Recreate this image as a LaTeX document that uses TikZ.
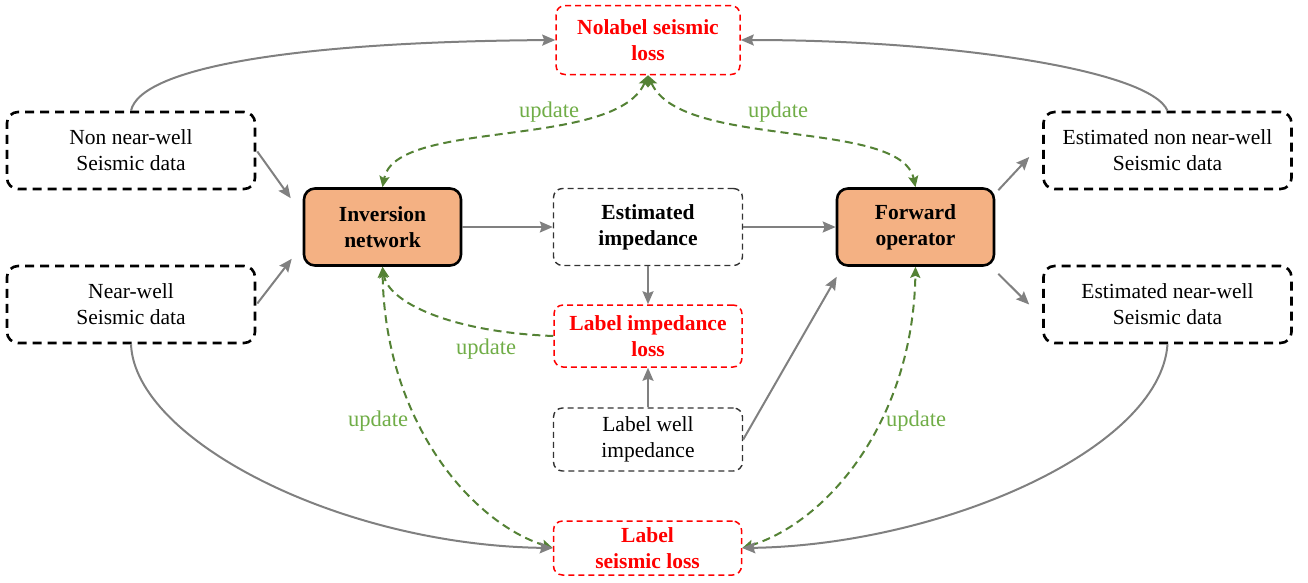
\documentclass[tikz,border=0pt]{standalone}
\usepackage{fontspec}
\setmainfont{Liberation Serif}
\usetikzlibrary{arrows.meta,calc}
\definecolor{gline}{RGB}{128,128,128}
\definecolor{gdash}{RGB}{84,130,53}
\definecolor{gtext}{RGB}{112,173,71}
\definecolor{orfill}{RGB}{244,177,131}
\definecolor{lossred}{RGB}{255,0,0}
\begin{document}
\begin{tikzpicture}[x=1pt,y=-1pt,
  every node/.style={font=\fontsize{21.5}{26}\selectfont, align=center, inner sep=2pt},
  databox/.style={draw=black, line width=2.6pt, dash pattern=on 9pt off 6pt, rounded corners=11pt,
    minimum width=248pt, minimum height=77pt},
  thinbox/.style={draw=black!80, line width=1.4pt, dash pattern=on 6pt off 4pt, rounded corners=9pt,
    minimum width=189pt, minimum height=77pt},
  lossbox/.style={draw=lossred, text=lossred, line width=1.5pt, dash pattern=on 6pt off 4pt,
    rounded corners=9pt, minimum width=188pt, font=\fontsize{21.5}{26}\selectfont\bfseries},
  procbox/.style={draw=black, fill=orfill, line width=2.6pt, rounded corners=11pt,
    minimum width=157pt, minimum height=77pt, font=\fontsize{21.5}{26}\selectfont\bfseries},
  garrow/.style={draw=gline, line width=2pt, -{Stealth[length=13pt,width=11pt,inset=2pt]}},
  upd/.style={draw=gdash, line width=2pt, dash pattern=on 8pt off 5pt},
  utip/.style={-{Stealth[length=11pt,width=10pt,inset=2pt]}},
  uboth/.style={{Stealth[length=11pt,width=10pt,inset=2pt]}-{Stealth[length=11pt,width=10pt,inset=2pt]}},
  updlabel/.style={text=gtext, font=\fontsize{22.5}{26}\selectfont}
]
\useasboundingbox (0,0) rectangle (1308,582);

% nodes
\node[lossbox, minimum width=184pt, minimum height=69pt] (nolabel) at (648,40) {Nolabel seismic\\loss};
\node[databox] (nonnear) at (131,150.5) {Non near-well\\Seismic data};
\node[databox] (near) at (131,304.5) {Near-well\\Seismic data};
\node[procbox] (inv) at (382.5,227) {Inversion\\network};
\node[thinbox, font=\fontsize{21.5}{26}\selectfont\bfseries] (estimp) at (648,227) {Estimated\\impedance};
\node[procbox] (fwd) at (915.5,227) {Forward\\operator};
\node[databox] (estnon) at (1167.5,150.5) {Estimated non near-well\\Seismic data};
\node[databox] (estnear) at (1167.5,304.5) {Estimated near-well\\Seismic data};
\node[lossbox, minimum height=62pt] (limp) at (648,336) {Label impedance\\loss};
\node[thinbox, minimum height=63pt] (lwell) at (648,439.5) {Label well\\impedance};
\node[lossbox, minimum height=54pt, inner sep=1pt] (lseis) at (647.5,548) {Label\\seismic loss};

% update (green dashed) curves
\draw[upd, uboth] (nolabel.south) .. controls (615,150) and (395,118) .. (inv.north);
\draw[upd, uboth] (nolabel.south) .. controls (681,150) and (901,118) .. (fwd.north);
\draw[upd, utip] (limp.west) .. controls (450,332) and (388,302) .. (inv.south);
\draw[upd, uboth] (lseis.west) .. controls (470,522) and (385,420) .. (inv.south);
\draw[upd, uboth] (lseis.east) .. controls (828,522) and (913,420) .. (fwd.south);

\node[updlabel] (u1) at (549,112) {update};
\node[updlabel] (u2) at (778,112) {update};
\node[updlabel] (u3) at (486,349) {update};
\node[updlabel] (u4) at (378,421) {update};
\node[updlabel] (u5) at (916,421) {update};

% grey curved connectors
\draw[garrow] (nonnear.north) .. controls (140,70) and (280,42) .. (nolabel.west);
\draw[garrow] (estnon.north) .. controls (1150,70) and (950,40) .. (nolabel.east);
\draw[garrow] (near.south) .. controls (135,440) and (340,545) .. (lseis.west);
\draw[garrow] (estnear.south) .. controls (1160,450) and (940,545) .. (lseis.east);

% grey straight connectors
\draw[garrow] ($(nonnear.east)+(1,1)$) -- ($(inv.north west)+(-12,11)$);
\draw[garrow] ($(near.east)+(1,-1)$) -- ($(inv.south west)+(-11,-8)$);
\draw[garrow] (inv.east) -- (estimp.west);
\draw[garrow] (estimp.east) -- (fwd.west);
\draw[garrow] (estimp.south) -- (limp.north);
\draw[garrow] (lwell.north) -- (limp.south);
\draw[garrow] (lwell.east) -- ($(fwd.south west)+(1,10)$);
\draw[garrow] ($(fwd.north east)+(3,3)$) -- ($(estnon.west)+(-13,6.5)$);
\draw[garrow] ($(fwd.south east)+(3,7)$) -- ($(estnear.west)+(-13,0)$);
\end{tikzpicture}
\end{document}
